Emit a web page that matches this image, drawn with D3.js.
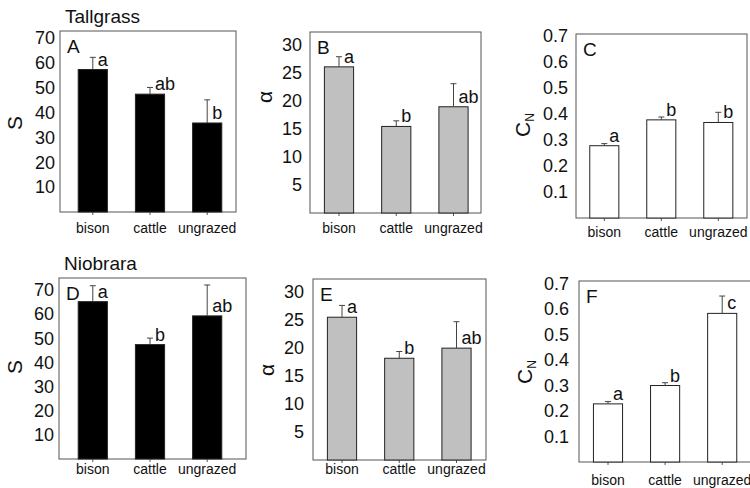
<!DOCTYPE html>
<html><head><meta charset="utf-8">
<script src="https://cdn.jsdelivr.net/npm/d3@7"></script>
<style>
body{margin:0;background:#fff;}
svg{display:block;font-family:"Liberation Sans",Arial,sans-serif;}
</style></head>
<body><svg id="c" width="750" height="488"></svg>
<script>
// ---------- data ----------
const categories = ["bison", "cattle", "ungrazed"];

const meanA = [57.3, 47.4, 35.8], seA = [4.9, 2.7, 9.3], letA = ["a", "ab", "b"];
const meanB = [26.0, 15.4, 18.9], seB = [1.8, 1.0, 4.1], letB = ["a", "b", "ab"];
const meanC = [0.277, 0.376, 0.366], seC = [0.008, 0.011, 0.039], letC = ["a", "b", "b"];
const meanD = [65.2, 47.4, 59.3], seD = [6.6, 2.7, 12.8], letD = ["a", "b", "ab"];
const meanE = [25.4, 18.1, 19.9], seE = [2.1, 1.2, 4.7], letE = ["a", "b", "ab"];
const meanF = [0.228, 0.300, 0.583], seF = [0.009, 0.011, 0.068], letF = ["a", "b", "c"];

const ticksS = [10, 20, 30, 40, 50, 60, 70];
const ticksAlpha = [5, 10, 15, 20, 25, 30];
const ticksCN = [0.1, 0.2, 0.3, 0.4, 0.5, 0.6, 0.7];

const siteTitles = ["Tallgrass", "Niobrara"];

// ---------- layout ----------
const panels = [
  {id:"A", mean:meanA, se:seA, let:letA, ticks:ticksS, fmt:d3.format("d"), ylab:"S", fill:"#000",
   fx:[60,236], fy:[31,212], ymax:72.8, c0:92.8, c2:207.2, tpad:5, ylx:15, yly:123, xlb:233, title:0},
  {id:"B", mean:meanB, se:seB, let:letB, ticks:ticksAlpha, fmt:d3.format("d"), ylab:"α", fill:"#c0c0c0",
   fx:[310,481], fy:[32,213], ymax:32.2, c0:339, c2:453.5, tpad:8, ylx:265, yly:97, xlb:233},
  {id:"C", mean:meanC, se:seC, let:letC, ticks:ticksCN, fmt:d3.format(".1f"), ylab:"CN", fill:"#fff",
   fx:[576,747], fy:[34,218], ymax:0.705, c0:604.3, c2:718.3, tpad:8, ylx:523, yly:125, xlb:237},
  {id:"D", mean:meanD, se:seD, let:letD, ticks:ticksS, fmt:d3.format("d"), ylab:"S", fill:"#000",
   fx:[59,246], fy:[278,459], ymax:75, c0:92.8, c2:207.2, tpad:5, ylx:15, yly:367, xlb:474, title:1},
  {id:"E", mean:meanE, se:seE, let:letE, ticks:ticksAlpha, fmt:d3.format("d"), ylab:"α", fill:"#c0c0c0",
   fx:[313,486], fy:[279,460], ymax:32.2, c0:342, c2:456.5, tpad:9, ylx:267, yly:370, xlb:474},
  {id:"F", mean:meanF, se:seF, let:letF, ticks:ticksCN, fmt:d3.format(".1f"), ylab:"CN", fill:"#fff",
   fx:[579,760], fy:[281,462], ymax:0.71, c0:608, c2:722.2, tpad:10, ylx:525, yly:372, xlb:485}
];

const svg = d3.select("#c");

panels.forEach(p => {
  const g = svg.append("g");
  const half = (p.c2 - p.c0) / 4;
  const x = d3.scaleBand().domain(categories)
    .range([p.c0 - half, p.c2 + half]).paddingInner(0.49).paddingOuter(0.245);
  const y = d3.scaleLinear().domain([0, p.ymax]).range([p.fy[1], p.fy[0]]);

  // frame
  g.append("rect").attr("x", p.fx[0]).attr("y", p.fy[0])
    .attr("width", p.fx[1] - p.fx[0]).attr("height", p.fy[1] - p.fy[0])
    .attr("fill", "none").attr("stroke", "#555").attr("stroke-width", 1);

  // y axis
  const ya = g.append("g").attr("transform", `translate(${p.fx[0]},0)`)
    .call(d3.axisLeft(y).tickValues(p.ticks).tickFormat(p.fmt).tickSize(0).tickPadding(p.tpad));
  ya.select(".domain").remove();
  ya.selectAll("text").attr("font-size", 18).attr("fill", "#111")
    .attr("font-family", "'Liberation Sans',Arial,sans-serif");

  // x axis
  const xa = g.append("g").attr("transform", `translate(0,${p.fy[1]})`)
    .call(d3.axisBottom(x).tickSize(3).tickPadding(0));
  xa.select(".domain").remove();
  xa.selectAll("line").attr("stroke", "#555");
  xa.selectAll("text").attr("y", p.xlb - p.fy[1]).attr("dy", 0).attr("font-size", 14)
    .attr("fill", "#111").attr("font-family", "'Liberation Sans',Arial,sans-serif");

  const rows = categories.map((c, i) => ({c, m: p.mean[i], s: p.se[i], l: p.let[i]}));

  // bars
  g.selectAll(".bar").data(rows).join("rect")
    .attr("x", d => x(d.c)).attr("width", x.bandwidth())
    .attr("y", d => y(d.m)).attr("height", d => y(0) - y(d.m))
    .attr("fill", p.fill).attr("stroke", "#222").attr("stroke-width", 1);

  // error bars
  const cx = d => x(d.c) + x.bandwidth() / 2;
  g.selectAll(".ev").data(rows).join("line")
    .attr("x1", cx).attr("x2", cx)
    .attr("y1", d => y(d.m)).attr("y2", d => y(d.m + d.s))
    .attr("stroke", "#444").attr("stroke-width", 1);
  g.selectAll(".ec").data(rows).join("line")
    .attr("x1", d => cx(d) - 3).attr("x2", d => cx(d) + 3)
    .attr("y1", d => y(d.m + d.s)).attr("y2", d => y(d.m + d.s))
    .attr("stroke", "#444").attr("stroke-width", 1);

  // significance letters
  g.selectAll(".sig").data(rows).join("text")
    .attr("x", d => cx(d) + 5).attr("y", d => y(d.m) - 4)
    .attr("font-size", 18).attr("fill", "#111").text(d => d.l);

  // panel letter
  g.append("text").attr("x", p.fx[0] + 7).attr("y", p.fy[0] + 22)
    .attr("font-size", 19).attr("fill", "#111").text(p.id);

  // y label
  const yl = g.append("text").attr("transform", `translate(${p.ylx},${p.yly}) rotate(-90)`)
    .attr("text-anchor", "middle").attr("dy", "0.35em").attr("font-size", 21).attr("fill", "#111");
  if (p.ylab === "CN") {
    yl.append("tspan").text("C");
    yl.append("tspan").attr("font-size", 12).attr("dy", "0.3em").text("N");
  } else {
    yl.text(p.ylab);
  }

  if (p.title !== undefined) {
    g.append("text").attr("x", p.fx[0] + 5).attr("y", p.fy[0] - 8)
      .attr("font-size", 19).attr("fill", "#111").text(siteTitles[p.title]);
  }
});
</script>
</body></html>
